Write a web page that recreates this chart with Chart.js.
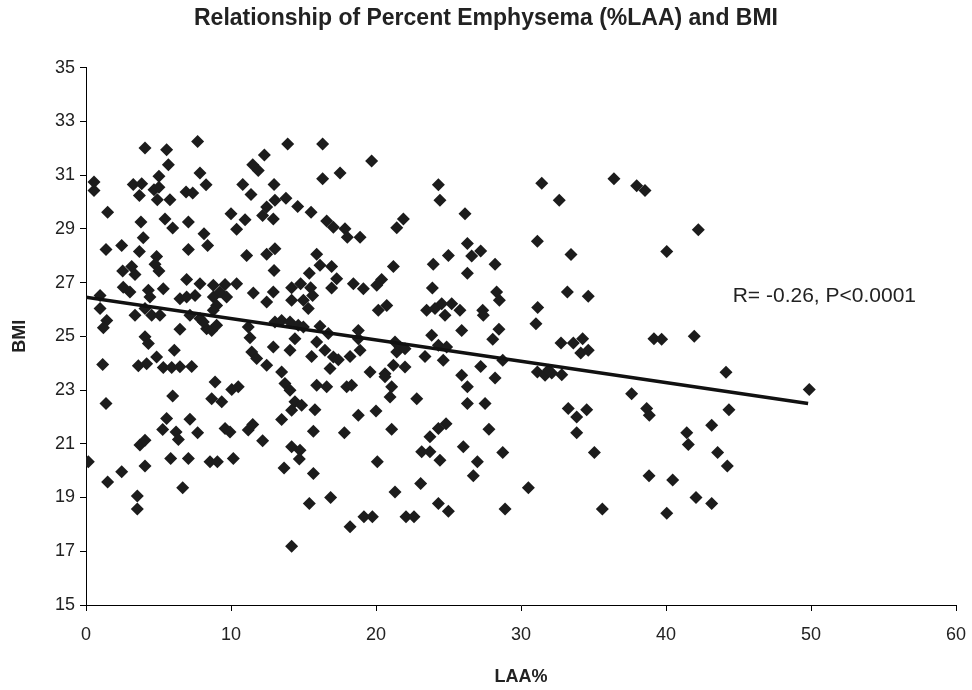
<!DOCTYPE html>
<html lang="en">
<head>
    <meta charset="UTF-8">
    <title>Percent Emphysema and BMI</title>
    <script src="https://cdn.jsdelivr.net/npm/chart.js"></script>
    <style>
        body {
            margin: 0;
            background: #fff;
        }
        #chart {
            display: block;
        }
    </style>
</head>
<body>

    <canvas id="chart" width="972" height="690"></canvas>

    <script>
        // LAA% and BMI for each patient
        const laa = [
            0.55, 0.55, 4.07, 5.56, 7.70, 5.68, 7.86, 8.28, 5.03, 3.26, 3.84, 3.68, 4.69, 5.03, 4.92, 5.79, 6.90, 7.36,
            1.49, 3.79, 5.45, 5.98, 7.06, 8.14, 8.39, 3.95, 1.38, 2.46, 3.68, 4.87, 7.06, 10.81, 11.38, 12.30, 11.50,
            11.88, 12.97, 10.00, 10.97, 10.39, 13.03, 12.46, 12.18, 12.92, 11.08, 12.46, 13.03,
            13.91, 16.32, 19.70, 16.32, 17.52, 24.30, 24.41, 13.79, 14.60, 15.52, 16.60, 17.06, 17.86, 18.02, 18.90,
            21.89, 21.43, 26.14, 15.91, 24.99,
            31.43, 36.41, 37.98, 38.55, 32.64, 26.30, 27.22, 26.60, 31.13, 33.45,
            42.23, 40.05,
            4.76, 5.03, 2.53, 3.15, 3.38, 6.94, 7.86, 8.78, 9.59, 10.39, 2.57, 3.03, 4.30, 4.41, 5.33, 6.48, 6.94, 7.52,
            8.78, 9.24, 9.01, 9.70, 11.54, 12.46, 12.92, 0.97, 0.97, 1.43, 1.20, 3.38, 4.07, 4.53, 5.10, 7.17, 7.86,
            8.32, 8.67, 9.01, 8.78, 8.09, 6.48, 11.19, 11.31, 13.03, 4.07, 4.30, 4.87, 6.09, 1.15, 3.61, 4.18, 5.33,
            5.91, 6.48, 7.29, 11.43, 11.77, 12.46, 12.92, 8.90, 10.05, 10.50, 5.98, 8.67, 9.36, 1.38,
            12.97, 16.14, 16.94, 15.40, 17.29, 16.94, 21.20, 20.39, 20.05, 18.44, 19.13, 23.95, 23.89, 14.18, 14.80,
            15.49, 15.63, 14.18, 14.99, 15.33, 20.16, 20.74, 23.49, 24.07, 24.53, 25.22, 24.76, 25.79, 25.91, 13.49,
            14.07, 14.64, 14.99, 16.14, 16.71, 18.78, 18.78, 21.31, 21.66, 21.43, 22.00, 23.84, 24.30, 24.87, 14.41,
            14.07, 15.91, 16.48, 17.06, 17.40, 18.21, 18.90, 15.56, 16.83, 23.38, 24.64, 19.59, 20.62, 21.20, 22.00,
            13.49, 13.72, 14.07, 14.41, 15.91, 16.60, 17.98, 18.32, 20.62, 21.08, 20.97, 22.81, 25.91,
            28.21, 26.30, 28.32, 28.51, 33.20, 34.64, 27.36, 27.40, 31.15, 31.03, 28.48, 28.05, 32.76, 33.61, 34.25,
            34.12, 34.64, 39.17, 28.74, 27.22, 28.21, 31.13, 31.66, 32.12, 32.81, 31.89, 26.30, 37.63, 26.30, 27.52,
            39.70, 41.95, 44.14, 49.88,
            5.56, 5.29, 7.17, 6.21, 6.37, 7.70, 9.59, 9.93, 11.19, 11.50, 12.18, 3.72, 4.07, 0.16, 2.46, 1.49, 4.07,
            5.84, 7.06, 8.55, 9.06, 10.16, 6.67, 3.54, 3.54,
            14.87, 14.18, 15.79, 13.49, 18.78, 20.00, 15.68, 17.82, 21.08, 23.72, 24.30, 24.83, 26.02, 14.18, 14.76,
            14.71, 23.15, 23.72, 24.41, 20.09, 13.66, 15.68, 23.08, 21.31, 16.87, 15.40, 24.30, 24.99, 19.17, 19.75,
            22.07, 22.62, 18.21, 14.18,
            33.26, 33.84, 34.53, 38.67, 38.85, 27.79, 33.84, 28.74, 35.06, 26.99, 26.71, 38.83, 30.51, 28.90, 35.61,
            44.34, 43.15, 41.43, 41.54, 43.56, 44.23, 40.46, 42.07, 43.15, 40.05
        ];
        const bmi = [
            30.74, 30.43, 32.01, 31.94, 32.25, 31.38, 31.08, 30.64, 30.96, 30.65, 30.68, 30.24, 30.45, 30.55, 30.08, 30.08, 30.37, 30.33,
            29.62, 29.25, 29.37, 29.03, 29.25, 28.82, 28.38, 28.67, 28.23, 28.38, 28.16, 27.97, 28.23, 30.65, 30.28, 31.75, 31.38,
            31.17, 30.65, 29.56, 29.34, 28.98, 30.06, 29.81, 29.50, 29.37, 28.01, 28.05, 28.26,
            32.16, 32.16, 31.52, 30.86, 31.08, 30.64, 30.06, 30.14, 29.83, 29.62, 29.29, 29.06, 29.00, 28.69, 28.69,
            29.37, 29.04, 29.56, 28.05, 28.01,
            30.70, 30.86, 30.60, 30.43, 30.06, 28.45, 28.17, 27.99, 28.54, 28.04,
            28.97, 28.16,
            27.68, 27.43, 27.43, 27.60, 27.30, 27.11, 26.96, 26.90, 26.93, 26.96, 26.83, 26.65, 26.71, 26.46, 26.77, 26.40, 26.46, 26.52,
            26.46, 26.65, 26.15, 26.46, 26.61, 26.28, 26.65, 26.52, 26.03, 25.59, 25.32, 25.78, 26.03, 25.78, 25.78, 25.78, 25.66,
            25.28, 25.22, 25.41, 25.97, 25.53, 25.26, 25.35, 24.95, 25.53, 24.98, 24.73, 24.23, 24.48, 23.95, 23.90, 23.98, 23.84,
            23.84, 23.87, 23.88, 24.42, 24.17, 23.92, 24.60, 23.30, 23.02, 23.12, 22.78, 22.68, 22.56, 22.50,
            27.45, 27.64, 27.60, 27.35, 27.14, 26.80, 27.60, 27.11, 26.90, 26.96, 26.77, 27.68, 26.80, 26.81, 26.96,
            26.81, 26.52, 26.34, 26.34, 26.03, 25.97, 26.15, 25.97, 26.03, 26.21, 26.21, 25.78, 25.97, 25.22, 25.59,
            25.53, 25.41, 25.35, 25.37, 25.10, 25.22, 24.91, 24.79, 24.60, 24.42, 24.54, 25.04, 24.67, 24.60, 24.91,
            24.48, 24.79, 24.48, 24.23, 24.13, 24.25, 24.48, 24.25, 23.80, 24.25, 24.11, 23.67, 23.61, 23.92, 23.86,
            23.67, 23.24, 22.99, 22.56, 23.18, 23.12, 23.12, 23.18, 23.49, 23.12, 22.74, 22.68, 23.55,
            27.68, 27.35, 26.65, 26.34, 26.65, 26.49, 25.97, 25.78, 26.07, 25.47, 25.26, 24.89, 24.75, 24.75, 24.91,
            24.38, 24.48, 24.91, 24.11, 23.88, 23.45, 23.67, 23.55, 23.63, 23.57, 23.74, 23.12, 22.86, 22.50, 22.50,
            24.89, 25.00, 23.66, 23.02,
            21.94, 21.53, 21.91, 21.44, 21.16, 21.41, 21.57, 21.44, 21.51, 21.72, 21.11, 20.95, 21.13, 20.33, 19.96, 19.58, 20.17,
            20.45, 20.45, 20.33, 20.33, 20.45, 19.36, 19.06, 18.57,
            22.43, 22.25, 22.27, 21.90, 22.06, 22.22, 21.47, 21.41, 21.54, 21.26, 21.57, 21.75, 20.89, 20.89, 20.76,
            20.43, 20.70, 20.70, 20.39, 20.33, 20.10, 19.89, 19.52, 19.21, 19.00, 18.78, 18.78, 18.49, 18.28, 18.28,
            18.28, 18.28, 17.91, 17.19,
            22.31, 22.00, 22.27, 22.31, 22.06, 21.54, 21.41, 20.68, 20.68, 20.33, 19.81, 19.81, 19.36, 18.57, 18.57,
            22.27, 21.69, 21.41, 20.97, 20.68, 20.17, 19.65, 19.00, 18.78, 18.41
        ];

        // fitted line, ends
        const trendLaa = [0, 49.8];
        const trendBmi = [26.45, 22.5];

        const noteText = 'R= -0.26, P<0.0001';
        const noteAt = [44.6, 26.5];

        const points = laa.map((x, i) => ({ x: x, y: bmi[i] }));
        const trend = trendLaa.map((x, i) => ({ x: x, y: trendBmi[i] }));

        const FONT = "Arial, 'Liberation Sans', sans-serif";
        Chart.defaults.font.family = FONT;
        Chart.defaults.color = '#222';

        // writes the R / P text inside the plot
        const notePlugin = {
            id: 'note',
            afterDatasetsDraw(chart) {
                const ctx = chart.ctx;
                const x = chart.scales.x.getPixelForValue(noteAt[0]);
                const y = chart.scales.y.getPixelForValue(noteAt[1]);
                ctx.save();
                ctx.font = '21px ' + FONT;
                ctx.fillStyle = '#222';
                ctx.textAlign = 'left';
                ctx.textBaseline = 'middle';
                ctx.fillText(noteText, x, y);
                ctx.restore();
            }
        };

        const ctx = document.getElementById('chart').getContext('2d');

        new Chart(ctx, {
            type: 'scatter',
            data: {
                datasets: [
                    {
                        type: 'line',
                        data: trend,
                        borderColor: '#111',
                        borderWidth: 3.5,
                        pointRadius: 0,
                        fill: false,
                        order: 0
                    },
                    {
                        data: points,
                        pointStyle: 'rectRot',
                        pointRadius: 6.5,
                        backgroundColor: '#1c1c1c',
                        borderWidth: 0,
                        order: 1
                    }
                ]
            },
            options: {
                responsive: false,
                animation: false,
                layout: {
                    padding: 0
                },
                plugins: {
                    legend: { display: false },
                    tooltip: { enabled: false },
                    title: {
                        display: true,
                        text: 'Relationship of Percent Emphysema (%LAA) and BMI',
                        color: '#222',
                        font: { size: 23, weight: 'bold' },
                        padding: { top: 5, bottom: 35 }
                    }
                },
                scales: {
                    x: {
                        type: 'linear',
                        min: 0,
                        max: 60,
                        ticks: { stepSize: 10, padding: 13, font: { size: 18 } },
                        grid: { drawOnChartArea: false, tickLength: 6, color: '#000' },
                        border: { color: '#000', width: 1 },
                        title: {
                            display: true,
                            text: 'LAA%',
                            font: { size: 18, weight: 'bold' },
                            padding: { top: 2, bottom: 2 }
                        },
                        afterFit: (scale) => {
                            scale.height = 85;
                            scale.paddingLeft = 0;
                            scale.paddingRight = 16;
                        }
                    },
                    y: {
                        min: 15,
                        max: 35,
                        ticks: { stepSize: 2, padding: 5, font: { size: 18 } },
                        grid: { drawOnChartArea: false, tickLength: 6, color: '#000' },
                        border: { color: '#000', width: 1 },
                        title: {
                            display: true,
                            text: 'BMI',
                            font: { size: 18, weight: 'bold' },
                            padding: { top: 9, bottom: 9 }
                        },
                        afterFit: (scale) => { scale.width = 86; }
                    }
                }
            },
            plugins: [notePlugin]
        });
    </script>

</body>
</html>
